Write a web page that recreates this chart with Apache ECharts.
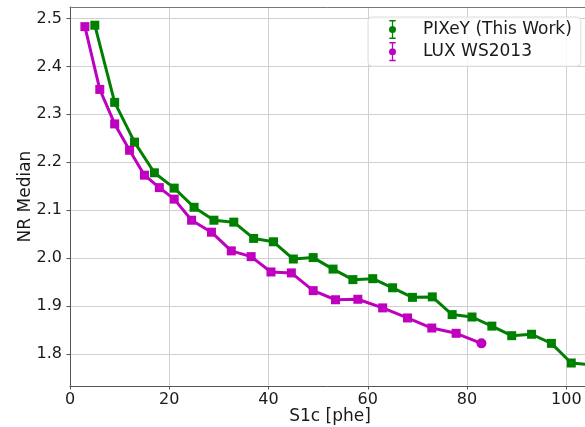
<!DOCTYPE html>
<html>
<head>
<meta charset="utf-8">
<script src="https://cdn.jsdelivr.net/npm/echarts@6/dist/echarts.min.js"></script>
<style>
  html, body { margin: 0; padding: 0; background: #fff; overflow: hidden; }
  #chart { width: 585px; height: 427px; }
</style>
</head>
<body>
<div id="chart"></div>
<script>
// PIXeY (This Work): S1c bin centres [phe] and NR band medians
const pixeyS1 = [5, 9, 13, 17, 21, 25, 29, 33, 37, 41, 45, 49, 53, 57, 61, 65, 69, 73, 77, 81, 85, 89, 93, 97, 101, 105];
const pixeyNR = [2.486, 2.325, 2.242, 2.178, 2.146, 2.106, 2.079, 2.075, 2.041, 2.034, 1.998, 2.001, 1.977, 1.955, 1.957, 1.938, 1.918, 1.919, 1.882, 1.877, 1.858, 1.838, 1.841, 1.822, 1.781, 1.777];

// LUX WS2013: S1c bin centres [phe] and NR band medians
const luxS1 = [3, 6, 9, 12, 15, 18, 21, 24.5, 28.5, 32.5, 36.5, 40.5, 44.6, 49, 53.5, 58, 63, 68, 72.9, 77.8, 82.9];
const luxNR = [2.483, 2.352, 2.280, 2.225, 2.173, 2.147, 2.123, 2.079, 2.054, 2.015, 2.003, 1.971, 1.969, 1.932, 1.913, 1.914, 1.896, 1.875, 1.854, 1.843, 1.822];

// Axis ticks
const xTicks = [0, 20, 40, 60, 80, 100];
const yTicks = [1.8, 1.9, 2.0, 2.1, 2.2, 2.3, 2.4, 2.5];

const FONT = 'DejaVu Sans';
const GREEN = '#008000';
const MAGENTA = '#bf00bf';
const SPINE = '#555';
const GRIDLINE = '#cfcfcf';

// Legend glyph: error bar with caps and a centre dot
const errIcon = 'path://M0,0H10V2.4H0Z M4,2.4H6V27.6H4Z M0,27.6H10V30H0Z M5,9.5A5.5,5.5 0 1 1 5,20.5A5.5,5.5 0 1 1 5,9.5Z';

function pairs(xs, ys, lastCircle) {
  return xs.map((x, i) => {
    const item = { value: [x, ys[i]] };
    if (lastCircle && i === xs.length - 1) {
      item.symbol = 'circle';
      item.symbolSize = 10;
    }
    return item;
  });
}

const chart = echarts.init(document.getElementById('chart'), null, { renderer: 'canvas' });

chart.setOption({
  animation: false,
  backgroundColor: '#ffffff',
  textStyle: { fontFamily: FONT },
  grid: {
    left: 70,
    top: 7,
    right: -21,
    bottom: 41,
    outerBoundsMode: 'none',
    containLabel: false
  },
  legend: {
    orient: 'vertical',
    left: 368,
    top: 17,
    padding: [3, 9, 5, 21],
    itemGap: 3,
    itemWidth: 7,
    itemHeight: 20,
    backgroundColor: 'rgba(255,255,255,0.85)',
    borderColor: '#dcdcdc',
    borderWidth: 1,
    borderRadius: 4,
    textStyle: {
      fontFamily: FONT,
      fontSize: 17,
      color: '#1a1a1a',
      padding: [0, 0, 0, 22]
    },
    data: [
      { name: 'PIXeY (This Work)', icon: errIcon, itemStyle: { color: GREEN } },
      { name: 'LUX WS2013', icon: errIcon, itemStyle: { color: MAGENTA } }
    ]
  },
  xAxis: [
    {
      type: 'value',
      min: 0,
      max: 108,
      name: 'S1c [phe]',
      nameLocation: 'middle',
      nameGap: 22,
      nameMoveOverlap: false,
      nameTextStyle: { fontFamily: FONT, fontSize: 17, color: '#1a1a1a', padding: [0, 16, 0, 0] },
      axisLine: { show: true, lineStyle: { color: SPINE, width: 1 } },
      axisTick: { show: true, length: 3.5, lineStyle: { color: SPINE }, customValues: xTicks },
      axisLabel: {
        fontFamily: FONT, fontSize: 16, color: '#1a1a1a', margin: 6,
        customValues: xTicks,
        formatter: v => String(v)
      },
      splitLine: { show: true, lineStyle: { color: GRIDLINE, width: 1 } }
    },
    {
      // top spine only
      type: 'value',
      position: 'top',
      min: 0,
      max: 108,
      axisLine: { show: true, onZero: false, lineStyle: { color: '#777', width: 1 } },
      axisTick: { show: false },
      axisLabel: { show: false },
      splitLine: { show: false }
    }
  ],
  yAxis: {
    type: 'value',
    min: 1.733,
    max: 2.524,
    name: 'NR Median',
    nameLocation: 'middle',
    nameGap: 36,
    nameMoveOverlap: false,
    nameTextStyle: { fontFamily: FONT, fontSize: 17, color: '#1a1a1a' },
    axisLine: { show: true, lineStyle: { color: SPINE, width: 1 } },
    axisTick: { show: true, length: 3.5, lineStyle: { color: SPINE }, customValues: yTicks },
    axisLabel: {
      fontFamily: FONT, fontSize: 16, color: '#1a1a1a', margin: 8,
      customValues: yTicks,
      formatter: v => v.toFixed(1)
    },
    splitLine: { show: true, lineStyle: { color: GRIDLINE, width: 1 } }
  },
  series: [
    {
      name: 'PIXeY (This Work)',
      type: 'line',
      data: pairs(pixeyS1, pixeyNR, false),
      symbol: 'rect',
      symbolSize: 9,
      showAllSymbol: true,
      clip: true,
      lineStyle: { color: GREEN, width: 3 },
      itemStyle: { color: GREEN },
      z: 3
    },
    {
      name: 'LUX WS2013',
      type: 'line',
      data: pairs(luxS1, luxNR, true),
      symbol: 'rect',
      symbolSize: 9,
      showAllSymbol: true,
      clip: true,
      lineStyle: { color: MAGENTA, width: 3 },
      itemStyle: { color: MAGENTA },
      z: 4
    }
  ]
});
</script>
</body>
</html>
